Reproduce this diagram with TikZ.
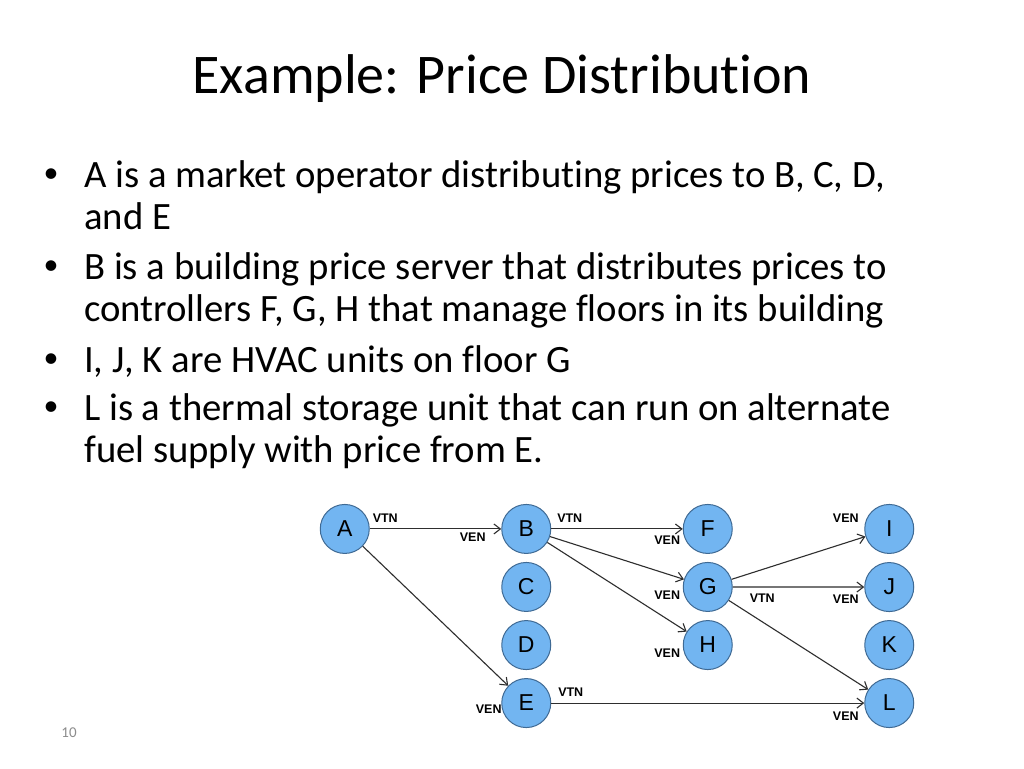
\documentclass[tikz,border=0pt]{standalone}
\usepackage{fontspec}
\setmainfont{Carlito}[Ligatures=NoCommon]
\newfontfamily\arialfont{Liberation Sans}
\usetikzlibrary{arrows.meta, positioning, matrix}
\definecolor{nodeblue}{HTML}{72B5F1}
\definecolor{nodeborder}{HTML}{3F6A94}
\definecolor{edgegray}{HTML}{2E2E2E}
\definecolor{pagegray}{HTML}{8C8C8C}
\tikzset{
  el/.style={circle, draw=nodeborder, fill=nodeblue, line width=1pt, minimum size=49pt, inner sep=0pt, font=\arialfont\fontsize{23}{23}\selectfont},
  tag/.style={inner sep=0pt, font=\arialfont\bfseries\fontsize{12.5}{12.5}\selectfont},
  pto/.style={-{Straight Barb[length=6.5pt,width=10pt]}, line width=1.1pt, edgegray},
  bullettext/.style={anchor=base west, inner sep=0pt, font=\fontsize{38.7}{42}\selectfont},
  bulletdot/.style={anchor=center, inner sep=0pt, font=\fontsize{30}{30}\selectfont}
}

\begin{document}
\begin{tikzpicture}
  \useasboundingbox[fill=white] (0pt,0pt) rectangle (1024pt,-768pt);

  % title and bullets
  \node[anchor=base, inner sep=0pt, font=\fontsize{56}{60}\selectfont] (title) at (502pt,-93pt) {Example: Price Distribution};

  \node[bulletdot] (dot1) at (51pt,-176pt) {\textbullet};
  \node[bullettext] (txt1a) at (84pt,-187pt) {A is a market operator distributing prices to B, C, D,};
  \node[bullettext] (txt1b) at (84pt,-229pt) {and E};
  \node[bulletdot] (dot2) at (51pt,-268pt) {\textbullet};
  \node[bullettext] (txt2a) at (84pt,-279pt) {B is a building price server that distributes prices to};
  \node[bullettext] (txt2b) at (84pt,-321pt) {controllers F, G, H that manage floors in its building};
  \node[bulletdot] (dot3) at (51pt,-361pt) {\textbullet};
  \node[bullettext] (txt3a) at (84pt,-372pt) {I, J, K are HVAC units on floor G};
  \node[bulletdot] (dot4) at (51pt,-409pt) {\textbullet};
  \node[bullettext] (txt4a) at (84pt,-420pt) {L is a thermal storage unit that can run on alternate};
  \node[bullettext] (txt4b) at (84pt,-462pt) {fuel supply with price from E.};

  \node[inner sep=0pt, text=pagegray, font=\fontsize{15}{15}\selectfont] (pagenum) at (69pt,-733pt) {10};

  % the nodes
  \matrix[matrix of nodes, every node/.style={el}, name=n, column sep=131.5pt, row sep=8pt] at (617pt,-616pt) {
    |(nA)| A & |(nB)| B & |(nF)| F & |(nI)| I \\
             & |(nC)| C & |(nG)| G & |(nJ)| J \\
             & |(nD)| D & |(nH)| H & |(nK)| K \\
             & |(nE)| E &          & |(nL)| L \\
  };

  % price flows
  \draw[pto] (nA) -- (nB);
  \draw[pto] (nA) -- (nE);
  \draw[pto] (nB) -- (nF);
  \draw[pto] (nB) -- (nG);
  \draw[pto] (nB) -- (nH);
  \draw[pto] (nG) -- (nI);
  \draw[pto] (nG) -- (nJ);
  \draw[pto] (nG) -- (nL);
  \draw[pto] (nE) -- (nL);

  % VTN / VEN tags
  \node[tag] (vtnA) at ([shift={(40.5pt,10.5pt)}]nA) {VTN};
  \node[tag] (vtnB) at ([shift={(43.5pt,10.5pt)}]nB) {VTN};
  \node[tag] (vtnE) at ([shift={(44.5pt,10.5pt)}]nE) {VTN};
  \node[tag] (vtnG) at ([shift={(54.5pt,-11pt)}]nG) {VTN};
  \node[tag] (venB) at ([shift={(-53.5pt,-8.5pt)}]nB) {VEN};
  \node[tag] (venE) at ([shift={(-37.5pt,-6pt)}]nE) {VEN};
  \node[tag] (venF) at ([shift={(-40.5pt,-11.5pt)}]nF) {VEN};
  \node[tag] (venG) at ([shift={(-40.5pt,-8.5pt)}]nG) {VEN};
  \node[tag] (venH) at ([shift={(-40.5pt,-8.5pt)}]nH) {VEN};
  \node[tag] (venI) at ([shift={(-43.5pt,11pt)}]nI) {VEN};
  \node[tag] (venJ) at ([shift={(-43.5pt,-12pt)}]nJ) {VEN};
  \node[tag] (venL) at ([shift={(-43.5pt,-13.5pt)}]nL) {VEN};
\end{tikzpicture}
\end{document}
